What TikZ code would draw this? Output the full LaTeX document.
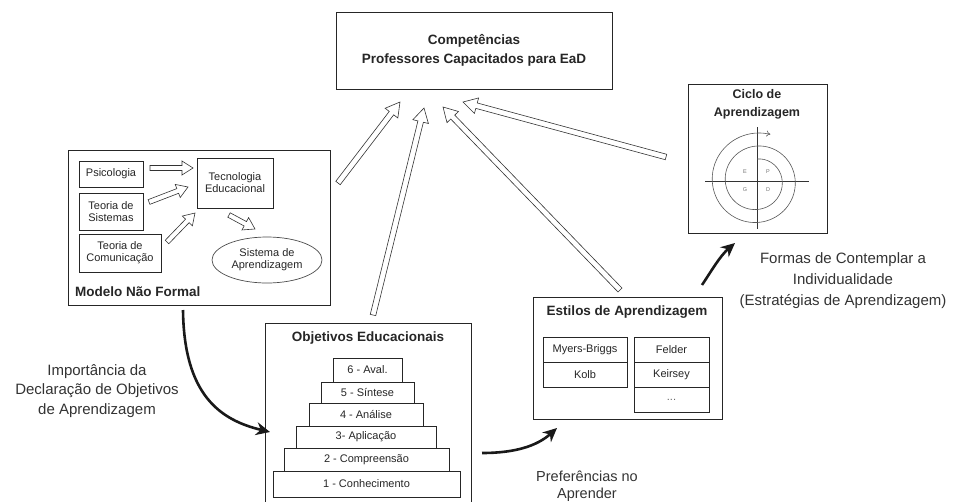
\documentclass[tikz,border=0pt]{standalone}
\usepackage{fontspec}
\setmainfont{Liberation Sans}
\usetikzlibrary{arrows.meta,calc,shapes.geometric}

\tikzset{
  ink/.style={black!85},
  box/.style={draw=black!85, line width=1pt, fill=white, inner sep=0pt,
              align=center, text=black!85},
  small/.style={font=\fontsize{11}{12}\selectfont},
  title/.style={font=\fontsize{13.5}{19}\selectfont\bfseries, text=black!85, inner sep=0pt},
  caption/.style={font=\fontsize{15}{19.5}\selectfont, align=center, text=black!80, inner sep=0pt},
  hollow/.style={draw=black!80, line width=0.6pt, fill=white, line join=miter},
  boldarrow/.style={line width=2.6pt, black!90, -{Stealth[length=14pt,width=13pt]}},
  quad/.style={font=\fontsize{5.5}{6}\selectfont, text=black!55, inner sep=0pt},
}

% outlined block arrow: tail, tip, shaft half width, head half width, head length
\newcommand\hollowarrow[5]{%
  \path[hollow] let \p1=(#1), \p2=(#2),
        \n1={atan2(\y2-\y1,\x2-\x1)}, \n2={veclen(\x2-\x1,\y2-\y1)} in
    [shift={(\p1)}, rotate=\n1]
    (0,#3) -- ({\n2-#5},#3) -- ({\n2-#5},#4) -- (\n2,0)
    -- ({\n2-#5},-#4) -- ({\n2-#5},-#3) -- (0,-#3) -- cycle;}

\begin{document}
\begin{tikzpicture}[x=1pt, y=-1pt]
\useasboundingbox (0,0) rectangle (958,501);

% ---------- top goal ----------
\node[box, minimum width=276pt, minimum height=77pt,
      font=\fontsize{13.5}{19}\selectfont\bfseries] (comp) at (474,50.5)
  {Competências\\Professores Capacitados para EaD};

% ---------- non-formal model ----------
\node[box, minimum width=262pt, minimum height=155pt] (modelo) at (199,227.5) {};
\node[title, anchor=west] (modelolbl) at (75,292) {Modelo Não Formal};
\node[box, small, minimum width=64pt, minimum height=26pt] (psico) at (111,174) {Psicologia};
\node[box, small, minimum width=64pt, minimum height=37pt] (sist) at (111,211.5) {Teoria de\\Sistemas};
\node[box, small, minimum width=82pt, minimum height=38pt] (comun) at (120,253) {Teoria de\\Comunicação};
\node[box, small, minimum width=76pt, minimum height=50pt] (tec) at (235,183) {Tecnologia\\Educacional};
\node[ellipse, draw=black!70, line width=0.7pt, small, align=center, text=black!85,
      minimum width=110pt, minimum height=46pt, inner sep=0pt] (sisap) at (267,260)
  {Sistema de\\Aprendizagem};

\coordinate (p1t) at (150,168); \coordinate (p1h) at (193,168);
\coordinate (p2t) at (149,202); \coordinate (p2h) at (188,187);
\coordinate (p3t) at (167,242); \coordinate (p3h) at (195,213);
\coordinate (p4t) at (229,215); \coordinate (p4h) at (255,229);
\hollowarrow{p1t}{p1h}{2.5}{7}{11}
\hollowarrow{p2t}{p2h}{2.5}{7}{11}
\hollowarrow{p3t}{p3h}{2.5}{7}{11}
\hollowarrow{p4t}{p4h}{2.5}{7}{11}

% ---------- educational objectives ----------
\draw[ink, line width=1pt] (265,503) |- (471,323) -- (471,503);
\node[title] (objt) at (368,338) {Objetivos Educacionais};
\node[box, small, minimum width=69pt,  minimum height=24pt] (s6) at (367.5,370)   {6 - Aval.};
\node[box, small, minimum width=93pt,  minimum height=21pt] (s5) at (367.5,392.5) {5 - Síntese};
\node[box, small, minimum width=114pt, minimum height=23pt] (s4) at (366,414.5)   {4 - Análise};
\node[box, small, minimum width=140pt, minimum height=22pt] (s3) at (366,437)     {3- Aplicação};
\node[box, small, minimum width=165pt, minimum height=23pt] (s2) at (366.5,459.5) {2 - Compreensão};
\node[box, small, minimum width=187pt, minimum height=26pt] (s1) at (366.5,484)   {1 - Conhecimento};

% ---------- learning styles ----------
\node[box, minimum width=189pt, minimum height=122pt] (estilos) at (627.5,358) {};
\node[title] (estt) at (627,312) {Estilos de Aprendizagem};
\node[box, small, minimum width=84pt, minimum height=25pt] (mb) at (585,349.5) {Myers-Briggs};
\node[box, small, minimum width=84pt, minimum height=25pt] (kolb) at (585,374.5) {Kolb};
\node[box, small, minimum width=75pt, minimum height=25pt] (felder) at (671.5,349.5) {Felder};
\node[box, small, minimum width=75pt, minimum height=25pt] (keirsey) at (671.5,374.5) {Keirsey};
\node[box, small, minimum width=75pt, minimum height=25pt, text=black!60] (etc) at (671.5,399.5) {...};

% ---------- learning cycle ----------
\node[box, minimum width=139pt, minimum height=149pt] (ciclo) at (757.5,158.5) {};
\node[title, font=\fontsize{12.5}{18}\selectfont\bfseries, align=center] (ciclot) at (757,104.5)
  {Ciclo de\\Aprendizagem};
\coordinate (hl) at (705,181); \coordinate (hr) at (809,181);
\coordinate (vt) at (757,127); \coordinate (vb) at (757,229);
\draw[black!80, line width=0.7pt] (hl) -- (hr);
\draw[black!80, line width=0.7pt] (vt) -- (vb);
\draw[black!65, line width=0.6pt, -{To[length=4pt,width=6pt]}]
  plot[smooth, samples=80, domain=0:736]
  ({757+(22+(\x/720)*26)*sin(\x)}, {181-(22+(\x/720)*26)*cos(\x)});
\node[quad] (qe) at (745,172) {E};
\node[quad] (qp) at (768,172) {P};
\node[quad] (qg) at (745,190) {G};
\node[quad] (qd) at (768,190) {D};

% ---------- arrows into the goal ----------
\coordinate (a1t) at (338,183); \coordinate (a1h) at (400,102);
\coordinate (a2t) at (373,315); \coordinate (a2h) at (424,108);
\coordinate (a3t) at (620,290); \coordinate (a3h) at (443,107);
\coordinate (a4t) at (666,157); \coordinate (a4h) at (463,102);
\hollowarrow{a1t}{a1h}{2.8}{8}{14}
\hollowarrow{a2t}{a2h}{2.8}{8}{14}
\hollowarrow{a3t}{a3h}{2.8}{8}{14}
\hollowarrow{a4t}{a4h}{2.8}{8}{14}

% ---------- curved black arrows ----------
\coordinate (c1t) at (183,310); \coordinate (c1h) at (270,432);
\draw[boldarrow] (c1t) .. controls (184,395) and (220,420) .. (c1h);
\coordinate (c2t) at (482,453); \coordinate (c2h) at (557,428);
\draw[boldarrow] (c2t) .. controls (515,453) and (537,446) .. (c2h);
\coordinate (c3t) at (702,285); \coordinate (c3h) at (735,243);
\draw[boldarrow] (c3t) .. controls (712,270) and (720,256) .. (c3h);

% ---------- captions ----------
\node[caption] (cap1) at (97,391)
  {Importância da\\Declaração de Objetivos\\de Aprendizagem};
\node[caption, font=\fontsize{14.5}{17}\selectfont] (cap2) at (587,486)
  {Preferências no\\Aprender};
\node[caption, font=\fontsize{15}{21}\selectfont] (cap3) at (843,281)
  {Formas de Contemplar a\\Individualidade\\(Estratégias de Aprendizagem)};
\end{tikzpicture}
\end{document}
